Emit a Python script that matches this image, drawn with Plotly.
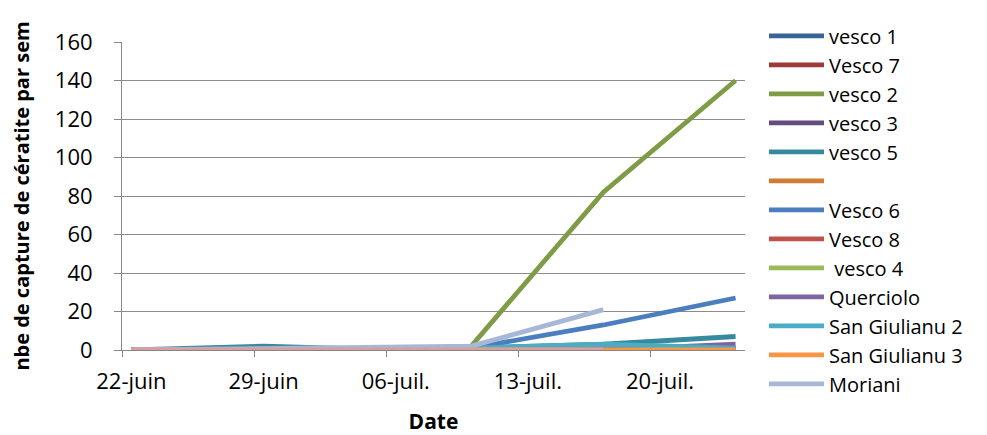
import plotly.graph_objects as go
from datetime import datetime, timedelta

dates = ["2012-06-22", "2012-06-29", "2012-07-06", "2012-07-10", "2012-07-17", "2012-07-24"]

names = ["vesco 1", "Vesco 7", "vesco 2", "vesco 3", "vesco 5", " ",
         "Vesco 6", "Vesco 8", " vesco 4", "Querciolo", "San Giulianu 2",
         "San Giulianu 3", "Moriani", "autre"]

vesco1 = [0, 0, 0, 0, 0, 0]
vesco7 = [0, 0, 0, 0, 0, 0]
vesco2 = [0, 0, 0, 2, 82, 140]
vesco3 = [0, 0, 0, 0, 0, 1]
vesco5 = [0, 2, 0, 1, 3, 7]
blank = [0, 0, 0, 0, 0, 0]
vesco6 = [0, 0, 0, 1, 13, 27]
vesco8 = [0, 0, 0, 0, 0, 0]
vesco4 = [0, 0, 0, 0, 0, 0]
querciolo = [0, 0, 0, 0, 0, 3]
sangiulianu2 = [0, 0, 0, 1, 3, 1]
sangiulianu3 = [0, 0, 0, 0, 0, 0]
moriani = [0, 1, 2, 2, 21, None]
autre = [0, 0, 0, 0, 0, None]

series = [vesco1, vesco7, vesco2, vesco3, vesco5, blank, vesco6, vesco8,
          vesco4, querciolo, sangiulianu2, sangiulianu3, moriani, autre]

colors = ["#3B6496", "#9D3A38", "#7E9C45", "#624C80", "#378A9E", "#D27B33",
          "#4A7EBF", "#C0504D", "#9BBB59", "#8064A2", "#4BACC6", "#F79646",
          "#A7B8D7", "#D7A09E"]

tick_labels = ["22-juin", "29-juin", "06-juil.", "13-juil.", "20-juil."]
tick_dates = ["2012-06-22", "2012-06-29", "2012-07-06", "2012-07-13", "2012-07-20"]

fig = go.Figure()
for i, (nm, vals, col) in enumerate(zip(names, series, colors)):
    fig.add_trace(go.Scatter(
        x=dates, y=vals, name=nm, mode="lines",
        line=dict(color=col, width=4.8),
        connectgaps=False,
        showlegend=(i < 13),
    ))

start = datetime(2012, 6, 22) - timedelta(hours=12)
end = datetime(2012, 7, 24) + timedelta(hours=12)

font = "Open Sans"
fig.update_layout(
    width=979, height=427,
    margin=dict(l=114, r=242, t=34, b=85, autoexpand=False),
    paper_bgcolor="white", plot_bgcolor="white",
    font=dict(family=font, size=20, color="black"),
    showlegend=True,
    legend=dict(x=1.0305, y=1.083, xanchor="left", yanchor="top",
                font=dict(size=20), itemwidth=55, tracegroupgap=0,
                maxheight=430,
                bgcolor="rgba(0,0,0,0)"),
    xaxis=dict(
        type="date", range=[start, end],
        tickvals=tick_dates, ticktext=tick_labels, ticks="",
        showgrid=False, zeroline=False,
        showline=True, linecolor="#868686", linewidth=1,
        minor=dict(tick0=start, dtick=7 * 86400000, ticks="outside",
                   ticklen=6, tickcolor="#868686", showgrid=False),
        title=dict(text="<b>Date</b>", font=dict(size=21), standoff=27),
        tickfont=dict(size=22),
        ticklabelstandoff=12,
        automargin=False,
    ),
    yaxis=dict(
        range=[0, 160], dtick=20, tick0=0,
        showgrid=True, gridcolor="#8C8C8C", gridwidth=1,
        zeroline=False, showline=True, linecolor="#868686",
        ticks="outside", ticklen=7, tickcolor="#868686",
        title=dict(text="<b>nbe de capture de cératite par sem</b>", font=dict(size=20), standoff=20),
        tickfont=dict(size=22),
        ticklabelstandoff=17,
        automargin=False,
    ),
)

fig.write_html("out.html")
